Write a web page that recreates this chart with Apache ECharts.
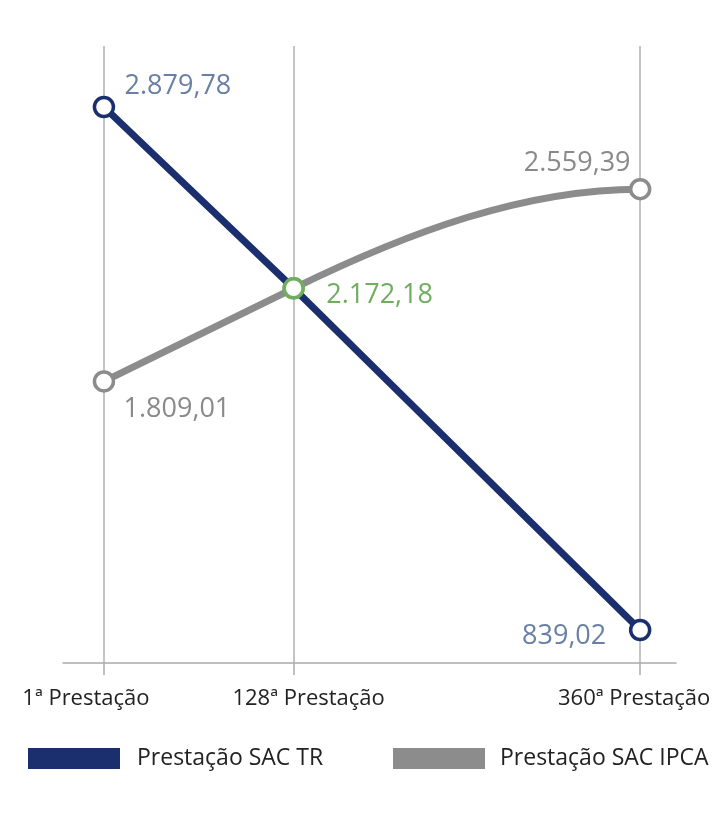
<!DOCTYPE html>
<html>
<head>
<meta charset="utf-8">
<script src="https://cdn.jsdelivr.net/npm/echarts@6/dist/echarts.min.js"></script>
<style>
  html, body { margin: 0; padding: 0; background: #fff; }
  #chart { width: 728px; height: 824px; }
</style>
</head>
<body>
<div id="chart"></div>
<script>
// installment numbers on the x axis
const installments = [1, 128, 360];
const tickLabels = ['1ª Prestação', '128ª Prestação', '360ª Prestação'];
const sacTR = [2879.78, 2172.18, 839.02];
const sacIPCA = [1809.01, 2172.18, 2559.39];

const blue = '#1b2f6e';
const gray = '#8c8c8c';
const green = '#6fae5e';
const font = '"Open Sans", sans-serif';

const fmt = v => v.toLocaleString('pt-BR', { minimumFractionDigits: 2, maximumFractionDigits: 2 });

// label placement for each point (offset from the marker)
const trOffsets = [[74, -21], null, [-76, 6]];
const ipcaOffsets = [[73, 28], [86, 7], [-63, -26]];

const chart = echarts.init(document.getElementById('chart'));

const trData = sacTR.map((v, i) => {
  const item = { value: [installments[i], v] };
  if (i === 1) {
    item.symbol = 'none';
    item.label = { show: false };
  } else {
    item.label = { offset: trOffsets[i] };
  }
  return item;
});

const ipcaData = sacIPCA.map((v, i) => {
  const item = { value: [installments[i], v], label: { offset: ipcaOffsets[i] } };
  if (i === 1) {
    item.itemStyle = { borderColor: green };
    item.label.color = green;
  }
  return item;
});

// IPCA curve: straight into the 128th point, then easing flat into the last one
function renderIpcaCurve(params, api) {
  if (params.dataIndex !== 0) return null;
  const p = installments.map((x, i) => api.coord([x, sacIPCA[i]]));
  const d2x = p[2][0] - p[1][0];
  const k = d2x / (p[1][0] - p[0][0]) / 3;
  const cp1 = [p[1][0] + (p[1][0] - p[0][0]) * k, p[1][1] + (p[1][1] - p[0][1]) * k];
  const cp2 = [p[2][0] - d2x / 3, p[2][1]];
  const path = 'M' + p[0].join(' ') + ' L' + p[1].join(' ') +
    ' C' + cp1.join(' ') + ' ' + cp2.join(' ') + ' ' + p[2].join(' ');
  return {
    type: 'path',
    shape: { pathData: path },
    style: { fill: null, stroke: gray, lineWidth: 7 }
  };
}

const rich = {
  l0: { fontSize: 22, fontFamily: font, color: '#222', padding: [0, 36, 0, 0] },
  l1: { fontSize: 22, fontFamily: font, color: '#222', padding: [0, 0, 0, 30] },
  l2: { fontSize: 22, fontFamily: font, color: '#222', padding: [0, 12, 0, 0] }
};

chart.setOption({
  backgroundColor: '#fff',
  animation: false,
  grid: { left: 63, right: 52, top: 46, bottom: 161 },
  xAxis: {
    type: 'value',
    min: -26.4,
    max: 384,
    splitLine: { show: false },
    axisLine: { lineStyle: { color: '#aaa', width: 1.5 } },
    axisTick: { customValues: installments, length: 12, lineStyle: { color: '#aaa', width: 1.5 } },
    axisLabel: {
      customValues: installments,
      margin: 25,
      rich: rich,
      formatter: v => {
        const i = installments.indexOf(v);
        return '{l' + i + '|' + tickLabels[i] + '}';
      }
    }
  },
  yAxis: {
    type: 'value',
    min: 710,
    max: 3118,
    show: false
  },
  legend: [
    {
      data: [{ name: 'Prestação SAC TR', itemStyle: { color: blue, borderWidth: 0 } }],
      left: 28, top: 747, padding: 0,
      icon: 'rect', itemWidth: 92, itemHeight: 21,
      textStyle: { fontSize: 23, fontFamily: font, color: '#222', padding: [0, 0, 0, 12] }
    },
    {
      data: [{ name: 'Prestação SAC IPCA', itemStyle: { color: gray, borderWidth: 0 } }],
      left: 393, top: 747, padding: 0,
      icon: 'rect', itemWidth: 92, itemHeight: 21,
      textStyle: { fontSize: 23, fontFamily: font, color: '#222', padding: [0, 0, 0, 10] }
    }
  ],
  series: [
    {
      name: 'curve',
      type: 'custom',
      renderItem: renderIpcaCurve,
      data: sacIPCA.map((v, i) => [installments[i], v]),
      z: 2,
      silent: true
    },
    {
      name: 'Prestação SAC IPCA',
      type: 'line',
      data: ipcaData,
      z: 2,
      color: gray,
      lineStyle: { width: 0, opacity: 0 },
      symbol: 'circle',
      symbolSize: 19,
      itemStyle: { color: '#fff', borderColor: gray, borderWidth: 3.5 },
      label: {
        show: true, position: 'inside', fontSize: 27, fontFamily: font, color: '#8a8a8a',
        formatter: p => fmt(p.value[1])
      },
      markLine: {
        silent: true,
        symbol: 'none',
        label: { show: false },
        z: 1,
        lineStyle: { color: '#b0b0b0', width: 1.5, type: 'solid' },
        data: installments.map(x => ({ xAxis: x }))
      }
    },
    {
      name: 'Prestação SAC TR',
      type: 'line',
      data: trData,
      z: 3,
      color: blue,
      lineStyle: { color: blue, width: 7 },
      symbol: 'circle',
      symbolSize: 19,
      itemStyle: { color: '#fff', borderColor: blue, borderWidth: 3.5 },
      label: {
        show: true, position: 'inside', fontSize: 27, fontFamily: font, color: '#6a7fa6',
        formatter: p => fmt(p.value[1])
      }
    },
    {
      // green marker where both lines meet
      name: 'cross',
      type: 'scatter',
      data: [[installments[1], sacIPCA[1]]],
      z: 4,
      symbol: 'circle',
      symbolSize: 19,
      itemStyle: { color: '#fff', borderColor: green, borderWidth: 3.5, opacity: 1 }
    }
  ]
});
</script>
</body>
</html>
